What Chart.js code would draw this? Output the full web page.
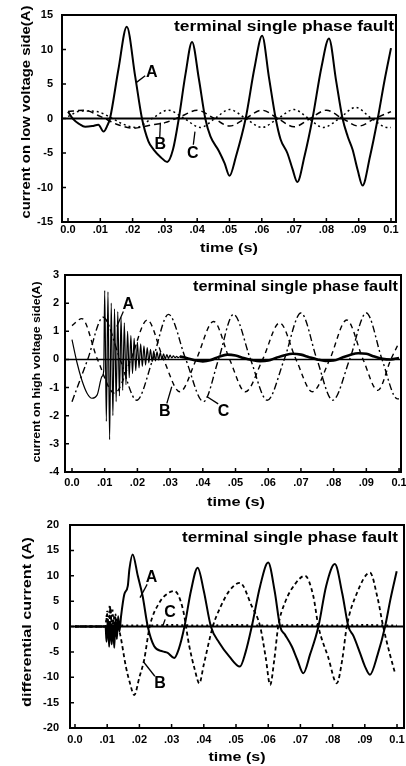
<!DOCTYPE html>
<html>
<head>
<meta charset="utf-8">
<script src="https://cdn.jsdelivr.net/npm/chart.js@4/dist/chart.umd.min.js"></script>
<style>
  html, body { margin: 0; padding: 0; background: #fff; }
  body { width: 406px; height: 766px; position: relative; overflow: hidden; }
  canvas { position: absolute; left: 0; }
</style>
</head>
<body>
<canvas id="lv" width="406" height="256" style="top:0;width:406px;height:256px"></canvas>
<canvas id="hv" width="406" height="256" style="top:256px;width:406px;height:256px"></canvas>
<canvas id="df" width="406" height="254" style="top:512px;width:406px;height:254px"></canvas>
<script>
// ---- shared axis ticks ----
const timeTicks = [0, 0.01, 0.02, 0.03, 0.04, 0.05, 0.06, 0.07, 0.08, 0.09, 0.1];
const timeTickLabels = ['0.0', '.01', '.02', '.03', '.04', '.05', '.06', '.07', '.08', '.09', '0.1'];
const lvTicks = [-15, -10, -5, 0, 5, 10, 15];
const hvTicks = [-4, -3, -2, -1, 0, 1, 2, 3];
const dfTicks = [-20, -15, -10, -5, 0, 5, 10, 15, 20];

// ---- current on low voltage side (A) ----
const lvTimeA = [0, 0.0016, 0.0035, 0.0053, 0.0075, 0.0094, 0.0110, 0.0122, 0.0130,
  0.0156, 0.0182, 0.0208, 0.0229, 0.0249, 0.0265, 0.0287, 0.0307, 0.0325, 0.0343,
  0.0364, 0.0384, 0.0405, 0.0425, 0.0441, 0.0467, 0.0485, 0.0500, 0.0520, 0.0550,
  0.0578, 0.0601, 0.0622, 0.0643, 0.0658, 0.0679, 0.0695, 0.0710, 0.0732, 0.0757,
  0.0785, 0.0808, 0.0830, 0.0850, 0.0866, 0.0881, 0.0897, 0.0912, 0.0935, 0.0959,
  0.0980, 0.1000];
const lvCurA = [1.0, -0.1, -0.8, -1.2, -1.1, -0.9, -1.9, -1.0, 0.0,
  7.1, 13.3, 6.1, 0.0, -3.3, -4.5, -5.6, -6.3, -4.5, 0.0,
  6.5, 11.1, 5.8, 0.0, -2.6, -4.7, -6.5, -8.3, -5.5, 0.0,
  7.5, 12.0, 6.0, 0.0, -3.0, -5.0, -7.3, -9.2, -5.5, 0.0,
  7.5, 11.6, 5.5, 0.0, -2.6, -4.5, -7.5, -9.7, -5.5, 0.0,
  5.5, 10.2];
const lvTimeB = [0, 0.005, 0.010, 0.0155, 0.0205, 0.025, 0.030, 0.035, 0.040, 0.045, 0.050,
  0.055, 0.060, 0.065, 0.070, 0.075, 0.080, 0.085, 0.090, 0.095, 0.100];
const lvCurB = [1.0, 1.2, 0.3, -0.9, -1.4, -1.0, -0.6, 0.3, 1.2, 0.1, -1.1,
  0.0, 1.2, 0.0, -1.2, 0.0, 1.2, 0.0, -1.1, 0.0, 1.0];
const lvTimeC = [0, 0.004, 0.009, 0.013, 0.017, 0.021, 0.026, 0.031, 0.036, 0.041, 0.0455,
  0.050, 0.055, 0.060, 0.065, 0.070, 0.0745, 0.079, 0.084, 0.089, 0.094, 0.099, 0.1];
const lvCurC = [0.3, 1.1, 1.0, 0.2, -0.8, -1.3, 0.0, 1.2, 0.0, -1.3, 0.0,
  1.3, 0.0, -1.3, 0.0, 1.3, 0.0, -1.3, 0.0, 1.6, 0.0, -1.3, -1.3];

// ---- current on high voltage side (A) ----
const hvTimeA = [0, 0.0015, 0.0030, 0.0046, 0.0061, 0.0077, 0.0092, 0.0097,
  0.0100, 0.0105, 0.0110, 0.0115, 0.0120, 0.0125, 0.0130, 0.0135, 0.0140, 0.0145,
  0.0150, 0.0155, 0.0160, 0.0165, 0.0170, 0.0175, 0.0180, 0.0185, 0.0190, 0.0195,
  0.0200, 0.0205, 0.0210, 0.0215, 0.0220, 0.0225, 0.0230, 0.0235, 0.0240, 0.0245,
  0.0250, 0.0255, 0.0260, 0.0265, 0.0270, 0.0275, 0.0280, 0.0285, 0.0290, 0.0295,
  0.0300, 0.0305, 0.0310, 0.0315, 0.0320, 0.0325, 0.0330,
  0.0350, 0.0375, 0.0400, 0.0425, 0.0450, 0.0475, 0.0500, 0.0525, 0.0550, 0.0575,
  0.0600, 0.0625, 0.0650, 0.0675, 0.0700, 0.0725, 0.0750, 0.0775, 0.0800, 0.0825,
  0.0850, 0.0875, 0.0900, 0.0925, 0.0950, 0.0975, 0.1000];
const hvCurA = [0.7, -0.1, -0.73, -1.2, -1.38, -1.26, -0.6, -0.4,
  2.45, -2.2, 2.4, -2.85, 2.0, -2.0, 1.8, -1.5, 1.7, -1.3,
  1.5, -1.1, 1.3, -0.9, 1.0, -0.65, 0.85, -0.5, 0.75, -0.4,
  0.62, -0.3, 0.55, -0.25, 0.48, -0.2, 0.42, -0.12, 0.36, -0.08,
  0.3, -0.05, 0.27, -0.02, 0.24, 0.0, 0.2, 0.02, 0.17, 0.04,
  0.15, 0.05, 0.13, 0.06, 0.11, 0.06, 0.1,
  0.05, -0.03, -0.07, -0.02, 0.1, 0.17, 0.14, 0.05, -0.02, -0.06,
  -0.04, 0.06, 0.15, 0.2, 0.17, 0.08, 0.0, -0.05, -0.04, 0.06,
  0.16, 0.22, 0.2, 0.1, 0.02, 0.0, 0.05];
const hvTimeB = [0, 0.003, 0.0078, 0.013, 0.018, 0.023, 0.028, 0.033, 0.038, 0.0433, 0.0482,
  0.053, 0.0583, 0.0635, 0.0685, 0.0735, 0.0788, 0.084, 0.089, 0.0935, 0.0975, 0.1];
const hvCurB = [1.2, 1.45, 0.0, -1.2, 0.0, 1.4, 0.0, -1.15, 0.0, 1.35, 0.0,
  -1.15, 0.0, 1.3, 0.0, -1.15, 0.0, 1.4, 0.0, -1.1, 0.0, 0.6];
const hvTimeC = [0, 0.0048, 0.0095, 0.0147, 0.0198, 0.0247, 0.0295, 0.0348, 0.0402, 0.0448, 0.0494,
  0.0546, 0.0597, 0.0649, 0.0700, 0.0749, 0.0797, 0.0849, 0.0900, 0.0948, 0.0995, 0.1];
const hvCurC = [-1.5, 0.0, 1.5, 0.0, -1.45, 0.0, 1.6, 0.0, -1.5, 0.0, 1.6,
  0.0, -1.45, 0.0, 1.65, 0.0, -1.45, 0.0, 1.65, 0.0, -1.4, -1.4];

// ---- differential current (A) ----
const dfTimeA = [0, 0.0095, 0.0098, 0.0102, 0.0106, 0.0110, 0.0114, 0.0118, 0.0122, 0.0126,
  0.0130, 0.0134, 0.0138, 0.0143, 0.0153, 0.0164, 0.0169, 0.0179, 0.0195, 0.0210,
  0.0226, 0.0246, 0.0272, 0.0288, 0.0308, 0.0322, 0.0340, 0.0360, 0.0381, 0.0400,
  0.0422, 0.0448, 0.0479, 0.0512, 0.0530, 0.0549, 0.0575, 0.0600, 0.0620, 0.0637,
  0.0652, 0.0673, 0.0690, 0.0709, 0.0730, 0.0756, 0.0780, 0.0807, 0.0830, 0.0849,
  0.0865, 0.0885, 0.0900, 0.0916, 0.0940, 0.0963, 0.0980, 0.0999];
const dfCurA = [0, 0, -3.0, 1.5, -4.0, 1.0, -3.5, 0.5, -4.2, 1.8,
  -2.5, 2.0, -1.0, 2.0, 6.3, 8.0, 11.3, 14.2, 10.0, 6.0,
  0.0, -3.9, -4.9, -5.2, -6.2, -4.5, 0.0, 7.0, 11.6, 7.0,
  0.0, -3.2, -5.9, -7.9, -5.0, 0.0, 8.0, 12.6, 7.0, 0.0,
  -1.6, -3.9, -6.5, -9.2, -5.5, 0.0, 8.0, 12.3, 6.5, 0.0,
  -1.9, -5.2, -7.8, -9.5, -5.5, 0.0, 5.5, 10.9];
const dfTimeB = [0, 0.0095, 0.0100, 0.0105, 0.0110, 0.0115, 0.0120, 0.0125, 0.0130, 0.0140,
  0.0158, 0.0170, 0.0184, 0.0200, 0.0215, 0.0232, 0.0262, 0.0290, 0.0308, 0.0334,
  0.0355, 0.0372, 0.0386, 0.0400, 0.0428, 0.0453, 0.0479, 0.0512, 0.0549, 0.0575,
  0.0592, 0.0606, 0.0619, 0.0631, 0.0652, 0.0685, 0.0714, 0.0740, 0.0756, 0.0786,
  0.0813, 0.0830, 0.0844, 0.0875, 0.0916, 0.0940, 0.0957, 0.0978, 0.0994];
const dfCurB = [0, 0, 2.5, -2.0, 3.8, -1.5, 2.0, -0.5, 0.5, -1.5,
  -7.9, -11.0, -13.5, -10.0, -6.5, 0.0, 4.7, 6.6, 7.0, 3.7,
  -3.9, -8.5, -11.2, -7.5, 0.0, 4.0, 7.0, 8.6, 4.0, 0.0,
  -6.0, -11.5, -6.5, 0.0, 4.7, 8.5, 10.0, 6.0, 0.0, -6.0,
  -11.2, -6.5, 0.0, 6.5, 10.6, 5.5, 0.0, -5.5, -9.2];
const dfTimeC = [0, 0.0095, 0.0100, 0.0104, 0.0108, 0.0112, 0.0116, 0.0120, 0.0125, 0.0130,
  0.0140, 0.020, 0.030, 0.040, 0.050, 0.060, 0.070, 0.080, 0.090, 0.1];
const dfCurC = [0, 0, 3.0, -1.0, 4.3, -1.5, 3.6, -0.5, 2.5, 0.5,
  0.2, 0.2, 0.3, 0.2, 0.3, 0.2, 0.3, 0.2, 0.3, 0.2];

const FONT = "'Liberation Sans', Arial, Helvetica, sans-serif";
const pts = (xs, ys) => xs.map((x, i) => ({ x, y: ys[i] }));

function drawFitted(ctx, text, cx, cy, size, width, angle) {
  ctx.save();
  ctx.font = 'bold ' + size + 'px ' + FONT;
  const w = ctx.measureText(text).width;
  ctx.translate(cx, cy);
  if (angle) ctx.rotate(angle);
  ctx.scale(width / w, 1);
  ctx.textAlign = 'center';
  ctx.textBaseline = 'middle';
  ctx.fillStyle = '#000';
  ctx.fillText(text, 0, 0);
  ctx.restore();
}

// frame, zero line, inward tick marks, titles and phase labels
const panelDeco = {
  id: 'panelDeco',
  beforeDatasetsDraw(chart, args, o) {
    const { ctx, chartArea: a, scales: { y } } = chart;
    const y0 = y.getPixelForValue(0);
    ctx.save();
    ctx.strokeStyle = '#000';
    ctx.lineWidth = o.zeroWidth;
    ctx.beginPath();
    ctx.moveTo(a.left, y0);
    ctx.lineTo(a.right, y0);
    ctx.stroke();
    ctx.restore();
  },
  afterDatasetsDraw(chart, args, o) {
    const { ctx, chartArea: a, scales: { x, y } } = chart;
    ctx.save();
    ctx.strokeStyle = '#000';
    ctx.lineWidth = 2;
    ctx.strokeRect(a.left, a.top, a.right - a.left, a.bottom - a.top);
    ctx.lineWidth = 1.5;
    ctx.beginPath();
    y.ticks.forEach(t => {
      const py = y.getPixelForValue(t.value);
      ctx.moveTo(a.left, py); ctx.lineTo(a.left + 4, py);
    });
    x.ticks.forEach(t => {
      const px = x.getPixelForValue(t.value);
      ctx.moveTo(px, a.bottom); ctx.lineTo(px, a.bottom - 4);
    });
    ctx.stroke();

    // phase labels with leader lines
    ctx.lineWidth = 1.3;
    o.notes.forEach(n => {
      ctx.beginPath();
      ctx.moveTo(x.getPixelForValue(n.from[0]), y.getPixelForValue(n.from[1]));
      ctx.lineTo(x.getPixelForValue(n.to[0]), y.getPixelForValue(n.to[1]));
      ctx.stroke();
      ctx.font = 'bold 16px ' + FONT;
      ctx.fillStyle = '#000';
      ctx.textAlign = 'center';
      ctx.textBaseline = 'middle';
      ctx.fillText(n.text, x.getPixelForValue(n.at[0]), y.getPixelForValue(n.at[1]));
    });
    ctx.restore();

    const t = o.title;
    drawFitted(ctx, t.text, a.right - t.margin - t.width / 2, a.top + t.dy, t.size, t.width, 0);
    drawFitted(ctx, o.yTitle.text, o.yTitle.cx, o.yTitle.cy, o.yTitle.size, o.yTitle.width, -Math.PI / 2);
    drawFitted(ctx, 'time (s)', o.xTitle.cx, o.xTitle.cy, 13, o.xTitle.width, 0);
  }
};

function makePanel(id, p) {
  const tickFont = { family: FONT, size: 11, weight: 'bold' };
  return new Chart(document.getElementById(id), {
    type: 'line',
    data: { datasets: p.datasets },
    options: {
      responsive: false,
      animation: false,
      events: [],
      layout: { padding: { top: p.top, right: p.right, left: 0, bottom: 0 } },
      elements: { point: { radius: 0 }, line: { cubicInterpolationMode: 'monotone', fill: false } },
      plugins: { legend: { display: false }, tooltip: { enabled: false }, panelDeco: p.deco },
      scales: {
        x: {
          type: 'linear', min: p.xMin, max: p.xMax,
          grid: { display: false, drawTicks: false },
          border: { display: false },
          afterBuildTicks: s => { s.ticks = timeTicks.map(v => ({ value: v })); },
          ticks: {
            autoSkip: false, maxRotation: 0, minRotation: 0, padding: p.xPad, color: '#000', font: tickFont,
            callback: v => timeTickLabels[timeTicks.indexOf(v)]
          },
          afterFit: s => { s.height = p.xAxisH; s.paddingLeft = 0; s.paddingRight = 0; }
        },
        y: {
          type: 'linear', min: p.yTicks[0], max: p.yTicks[p.yTicks.length - 1],
          grid: { display: false, drawTicks: false },
          border: { display: false },
          afterBuildTicks: s => { s.ticks = p.yTicks.map(v => ({ value: v })); },
          ticks: { padding: p.yPad, color: '#000', font: tickFont, callback: v => String(v) },
          afterFit: s => { s.width = p.left; s.paddingTop = 0; s.paddingBottom = 0; }
        }
      }
    },
    plugins: [panelDeco]
  });
}

const solid = (data, w) => ({ data, borderColor: '#000', borderWidth: w });
const dashed = (data, w, dash) => ({ data, borderColor: '#000', borderWidth: w, borderDash: dash });

makePanel('lv', {
  top: 15, right: 10, left: 62, xAxisH: 34, xPad: 1, yPad: 9,
  xMin: -0.00186, xMax: 0.10155, yTicks: lvTicks,
  datasets: [
    dashed(pts(lvTimeC, lvCurC), 1.5, [2, 3]),
    dashed(pts(lvTimeB, lvCurB), 1.5, [6, 4]),
    solid(pts(lvTimeA, lvCurA), 2)
  ],
  deco: {
    zeroWidth: 2,
    title: { text: 'terminal single phase fault', width: 220, margin: 2, dy: 12, size: 15 },
    yTitle: { text: 'current on low voltage side(A)', cx: 26, cy: 112, width: 213, size: 13 },
    xTitle: { cx: 229, cy: 248, width: 58 },
    notes: [
      { text: 'A', at: [0.0259, 6.6], from: [0.0239, 6.2], to: [0.0211, 5.2] },
      { text: 'B', at: [0.0286, -3.8], from: [0.0284, -2.8], to: [0.0286, -0.6] },
      { text: 'C', at: [0.0386, -5.1], from: [0.0388, -3.8], to: [0.0393, -1.9] }
    ]
  }
});

makePanel('hv', {
  top: 19, right: 5, left: 65, xAxisH: 40, xPad: 4, yPad: 6,
  xMin: -0.00214, xMax: 0.1006, yTicks: hvTicks,
  datasets: [
    dashed(pts(hvTimeC, hvCurC), 1.4, [7, 3, 2, 3]),
    dashed(pts(hvTimeB, hvCurB), 1.4, [5, 4]),
    Object.assign(solid(pts(hvTimeA, hvCurA), 1.2), {
      segment: { borderWidth: c => (c.p0.parsed.x >= 0.033 ? 2.6 : 1.2) }
    })
  ],
  deco: {
    zeroWidth: 1.5,
    title: { text: 'terminal single phase fault', width: 205, margin: 3, dy: 12, size: 14 },
    yTitle: { text: 'current on high voltage side(A)', cx: 37, cy: 116, width: 181, size: 10 },
    xTitle: { cx: 236, cy: 246, width: 58 },
    notes: [
      { text: 'A', at: [0.0172, 1.94], from: [0.0157, 1.7], to: [0.0137, 1.17] },
      { text: 'B', at: [0.0284, -1.86], from: [0.029, -1.56], to: [0.0305, -0.97] },
      { text: 'C', at: [0.0463, -1.86], from: [0.0447, -1.58], to: [0.0412, -1.32] }
    ]
  }
});

makePanel('df', {
  top: 13, right: 2, left: 70, xAxisH: 38, xPad: 5, yPad: 11,
  xMin: -0.00155, xMax: 0.10217, yTicks: dfTicks,
  datasets: [
    dashed(pts(dfTimeC, dfCurC), 1.8, [2, 3]),
    dashed(pts(dfTimeB, dfCurB), 1.8, [4, 3]),
    solid(pts(dfTimeA, dfCurA), 2)
  ],
  deco: {
    zeroWidth: 2,
    title: { text: 'terminal single phase fault', width: 216, margin: 6, dy: 13, size: 15 },
    yTitle: { text: 'differential current (A)', cx: 27, cy: 110, width: 170, size: 13 },
    xTitle: { cx: 237, cy: 245, width: 57 },
    notes: [
      { text: 'A', at: [0.0238, 9.6], from: [0.0224, 8.3], to: [0.0202, 5.7] },
      { text: 'C', at: [0.0295, 2.7], from: [0.028, 1.4], to: [0.0272, 0] },
      { text: 'B', at: [0.0264, -11.2], from: [0.0248, -9.8], to: [0.0212, -6.9] }
    ]
  }
});
</script>
</body>
</html>
